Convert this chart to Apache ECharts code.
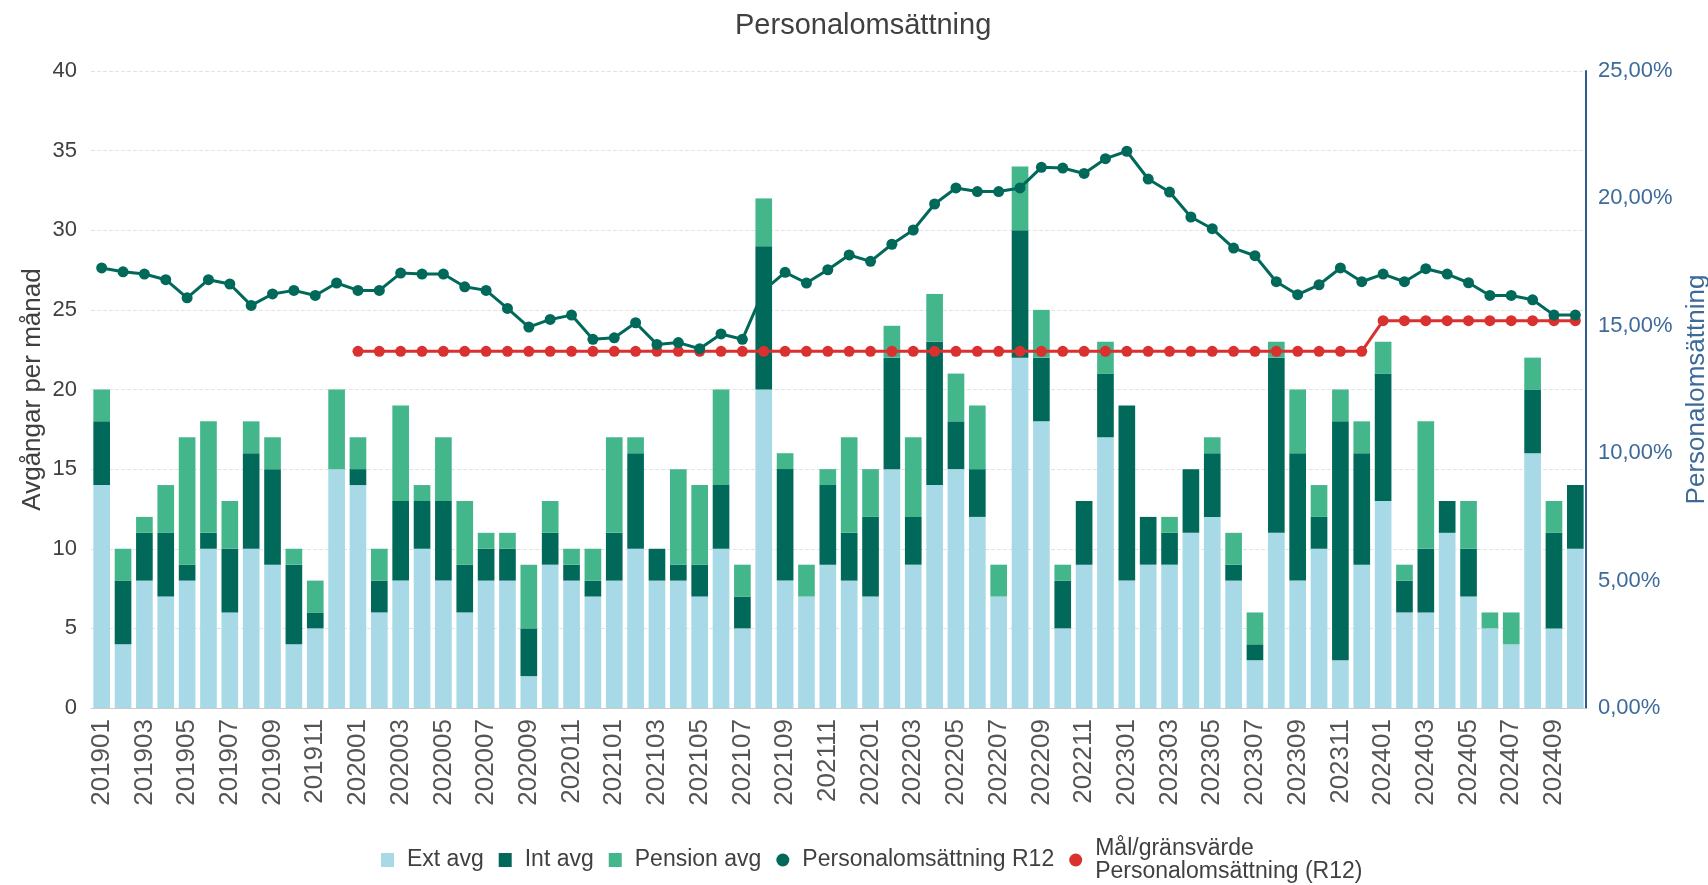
<!DOCTYPE html>
<html>
<head>
<meta charset="utf-8">
<title>Personalomsättning</title>
<script src="https://cdn.jsdelivr.net/npm/echarts@6.0.0/dist/echarts.min.js"></script>
<style>
  html, body { margin: 0; padding: 0; background: #fff; }
  #chart { width: 1708px; height: 885px; }
</style>
</head>
<body>
<div id="chart"></div>
<script>
// månader 201901 - 202410
const months = [
  '201901', '201902', '201903', '201904', '201905', '201906', '201907', '201908', '201909', '201910', '201911', '201912',
  '202001', '202002', '202003', '202004', '202005', '202006', '202007', '202008', '202009', '202010', '202011', '202012',
  '202101', '202102', '202103', '202104', '202105', '202106', '202107', '202108', '202109', '202110', '202111', '202112',
  '202201', '202202', '202203', '202204', '202205', '202206', '202207', '202208', '202209', '202210', '202211', '202212',
  '202301', '202302', '202303', '202304', '202305', '202306', '202307', '202308', '202309', '202310', '202311', '202312',
  '202401', '202402', '202403', '202404', '202405', '202406', '202407', '202408', '202409', '202410'
];

const extAvg = [
  14, 4, 8, 7, 8, 10, 6, 10, 9, 4, 5, 15,
  14, 6, 8, 10, 8, 6, 8, 8, 2, 9, 8, 7,
  8, 10, 8, 8, 7, 10, 5, 20, 8, 7, 9, 8,
  7, 15, 9, 14, 15, 12, 7, 22, 18, 5, 9, 17,
  8, 9, 9, 11, 12, 8, 3, 11, 8, 10, 3, 9,
  13, 6, 6, 11, 7, 5, 4, 16, 5, 10
];

const intAvg = [
  4, 4, 3, 4, 1, 1, 4, 6, 6, 5, 1, 0,
  1, 2, 5, 3, 5, 3, 2, 2, 3, 2, 1, 1,
  3, 6, 2, 1, 2, 4, 2, 9, 7, 0, 5, 3,
  5, 7, 3, 9, 3, 3, 0, 8, 4, 3, 4, 4,
  11, 3, 2, 4, 4, 1, 1, 11, 8, 2, 15, 7,
  8, 2, 4, 2, 3, 0, 0, 4, 6, 4
];

const pensionAvg = [
  2, 2, 1, 3, 8, 7, 3, 2, 2, 1, 2, 5,
  2, 2, 6, 1, 4, 4, 1, 1, 4, 2, 1, 2,
  6, 1, 0, 6, 5, 6, 2, 3, 1, 2, 1, 6,
  3, 2, 5, 3, 3, 4, 2, 4, 3, 1, 0, 2,
  0, 0, 1, 0, 1, 2, 2, 1, 4, 2, 2, 2,
  2, 1, 8, 0, 3, 1, 2, 2, 2, 0
];

// procent
const r12 = [
  17.27, 17.12, 17.03, 16.81, 16.10, 16.81, 16.64, 15.80, 16.25, 16.39, 16.19, 16.68,
  16.39, 16.39, 17.07, 17.03, 17.03, 16.53, 16.39, 15.68, 14.95, 15.25, 15.42, 14.47,
  14.53, 15.12, 14.27, 14.34, 14.10, 14.68, 14.47, 16.39, 17.10, 16.68, 17.20, 17.78,
  17.53, 18.20, 18.76, 19.78, 20.41, 20.27, 20.27, 20.41, 21.22, 21.19, 20.98, 21.56,
  21.85, 20.76, 20.25, 19.27, 18.81, 18.05, 17.75, 16.73, 16.22, 16.61, 17.27, 16.73,
  17.03, 16.73, 17.24, 17.03, 16.69, 16.19, 16.19, 16.02, 15.42, 15.42
];

const target = [
  null, null, null, null, null, null, null, null, null, null, null, null,
  14, 14, 14, 14, 14, 14, 14, 14, 14, 14, 14, 14,
  14, 14, 14, 14, 14, 14, 14, 14, 14, 14, 14, 14,
  14, 14, 14, 14, 14, 14, 14, 14, 14, 14, 14, 14,
  14, 14, 14, 14, 14, 14, 14, 14, 14, 14, 14, 14,
  15.2, 15.2, 15.2, 15.2, 15.2, 15.2, 15.2, 15.2, 15.2, 15.2
];

const leftTicks = { min: 0, max: 40, interval: 5 };
const rightTicks = { min: 0, max: 25, interval: 5 };

const FONT = '"Liberation Sans", Arial, sans-serif';
const C_EXT = '#a7d9e6';
const C_INT = '#00695a';
const C_PEN = '#43b68c';
const C_RED = '#d9312f';
const C_BLUE = '#2f5c8c';

const chart = echarts.init(document.getElementById('chart'));

const pct = v => v.toFixed(2).replace('.', ',') + '%';

const option = {
  textStyle: { fontFamily: FONT },
  title: {
    text: 'Personalomsättning',
    left: 730,
    top: 6,
    textStyle: { fontFamily: FONT, fontSize: 29, fontWeight: 'normal', color: '#404040' }
  },
  legend: {
    bottom: -3,
    left: 376,
    itemGap: 15,
    itemWidth: 13,
    itemHeight: 14,
    textStyle: { fontFamily: FONT, fontSize: 23, color: '#404040', padding: [0, 0, 0, 8] },
    formatter: name => name === 'Mål/gränsvärde Personalomsättning (R12)'
      ? 'Mål/gränsvärde\nPersonalomsättning (R12)' : name,
    data: [
      { name: 'Ext avg', icon: 'rect' },
      { name: 'Int avg', icon: 'rect' },
      { name: 'Pension avg', icon: 'rect' },
      { name: 'Personalomsättning R12', icon: 'circle' },
      { name: 'Mål/gränsvärde Personalomsättning (R12)', icon: 'circle' }
    ]
  },
  tooltip: { trigger: 'axis' },
  grid: { left: 91, right: 122, top: 71, bottom: 177, outerBoundsMode: 'none' },
  xAxis: {
    type: 'category',
    data: months,
    axisLine: { lineStyle: { color: '#cccccc' } },
    axisTick: { alignWithLabel: true, interval: 1, length: 6, lineStyle: { color: '#cccccc' } },
    axisLabel: { interval: 1, rotate: 90, margin: 11, fontSize: 26, color: '#555555', fontFamily: FONT }
  },
  yAxis: [
    {
      type: 'value',
      min: leftTicks.min,
      max: leftTicks.max,
      interval: leftTicks.interval,
      name: 'Avgångar per månad',
      nameLocation: 'middle',
      nameGap: 45,
      nameMoveOverlap: false,
      nameTextStyle: { fontSize: 26, color: '#404040', fontFamily: FONT },
      axisLine: { show: false },
      axisTick: { show: false },
      axisLabel: { fontSize: 22, color: '#404040', margin: 14, fontFamily: FONT },
      splitLine: { lineStyle: { type: 'dashed', color: '#e3e3e3' } }
    },
    {
      type: 'value',
      min: rightTicks.min,
      max: rightTicks.max,
      interval: rightTicks.interval,
      position: 'right',
      name: 'Personalomsättning',
      nameLocation: 'middle',
      nameGap: 85,
      nameTextStyle: { fontSize: 26, color: '#3d6a99', fontFamily: FONT },
      axisLine: { show: true, lineStyle: { color: C_BLUE, width: 2 } },
      axisTick: { show: false },
      axisLabel: { fontSize: 22, color: '#3d6a99', margin: 12, fontFamily: FONT, formatter: pct },
      splitLine: { show: false }
    }
  ],
  series: [
    {
      name: 'Ext avg',
      type: 'bar',
      stack: 'avg',
      barCategoryGap: '22%',
      itemStyle: { color: C_EXT },
      data: extAvg
    },
    {
      name: 'Int avg',
      type: 'bar',
      stack: 'avg',
      itemStyle: { color: C_INT },
      data: intAvg
    },
    {
      name: 'Pension avg',
      type: 'bar',
      stack: 'avg',
      itemStyle: { color: C_PEN },
      data: pensionAvg
    },
    {
      name: 'Personalomsättning R12',
      type: 'line',
      yAxisIndex: 1,
      symbol: 'circle',
      symbolSize: 11,
      lineStyle: { color: C_INT, width: 3 },
      itemStyle: { color: C_INT },
      z: 5,
      data: r12
    },
    {
      name: 'Mål/gränsvärde Personalomsättning (R12)',
      type: 'line',
      yAxisIndex: 1,
      symbol: 'circle',
      symbolSize: 11,
      lineStyle: { color: C_RED, width: 3 },
      itemStyle: { color: C_RED },
      z: 4,
      data: target
    }
  ]
};

chart.setOption(option);
</script>
</body>
</html>
